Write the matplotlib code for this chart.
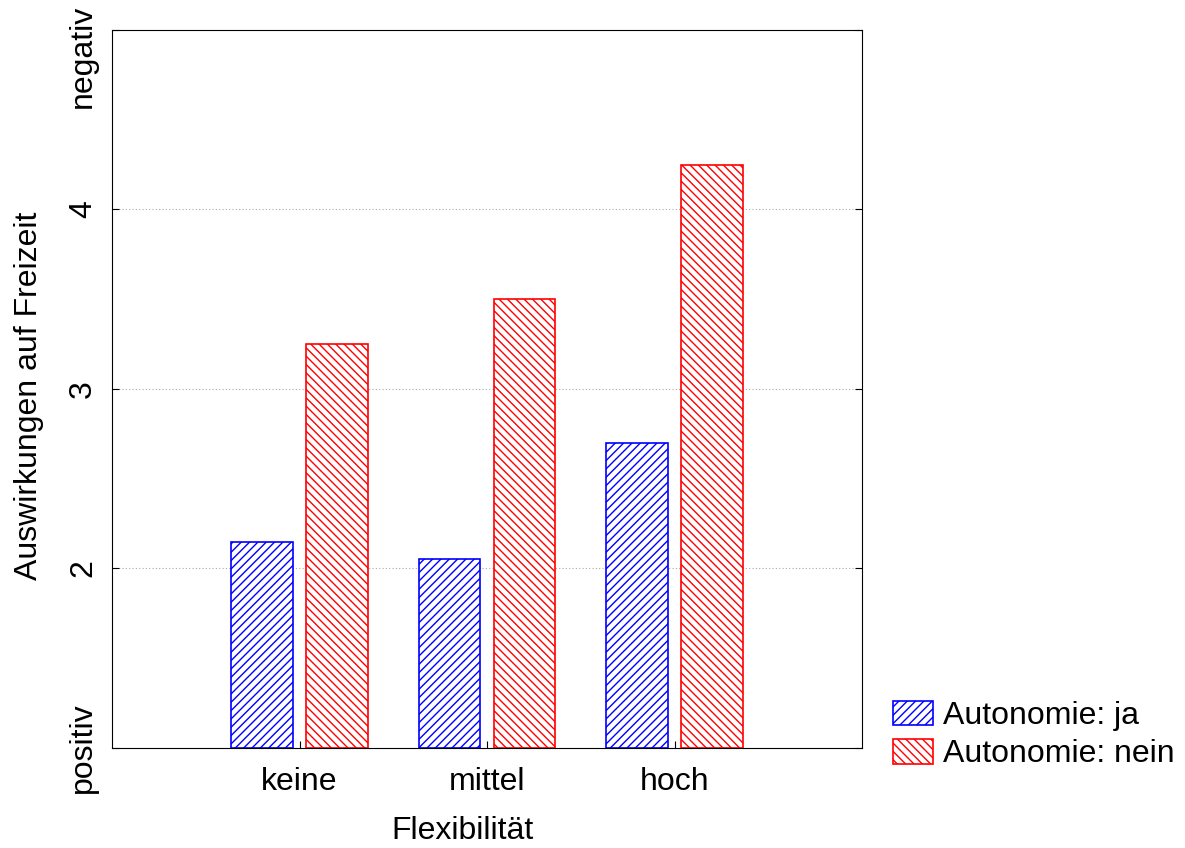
import matplotlib
matplotlib.use("Agg")
import matplotlib.pyplot as plt
import matplotlib.transforms as mtransforms
import numpy as np

plt.rcParams["font.family"] = ["Liberation Sans", "DejaVu Sans"]
plt.rcParams["hatch.linewidth"] = 1.0

categories = ["keine", "mittel", "hoch"]
autonomie_ja = [2.15, 2.05, 2.70]
autonomie_nein = [3.25, 3.50, 4.25]
y_ticks = [1, 2, 3, 4, 5]
y_labels = ["positiv", "2", "3", "4", "negativ"]

fig = plt.figure(figsize=(11.85, 8.48), dpi=100)
ax = fig.add_axes([0.0945, 0.118, 0.633, 0.8466])

x = np.arange(1, len(categories) + 1)
w = 0.33
ax.bar(x - 0.2, np.array(autonomie_ja) - 1, w, bottom=1, facecolor="white",
       edgecolor="blue", hatch="////", linewidth=1.2, label="Autonomie: ja")
ax.bar(x + 0.2, np.array(autonomie_nein) - 1, w, bottom=1, facecolor="white",
       edgecolor="red", hatch="\\\\\\\\", linewidth=1.2, label="Autonomie: nein")

ax.set_xlim(0, 4)
ax.set_ylim(1, 5)
ax.set_xticks(x)
ax.set_xticklabels(categories, fontsize=23)
ax.set_yticks(y_ticks)
ax.set_yticklabels(y_labels, fontsize=23, rotation=90, va="center")
ax.tick_params(direction="in", length=5, right=True, top=False)
ax.tick_params(axis="x", pad=14)
ax.tick_params(axis="y", pad=10)

# "negativ" is pushed down so that it stays inside the figure
neg = ax.get_yticklabels()[-1]
neg.set_va("top")
neg.set_transform(neg.get_transform()
                  + mtransforms.ScaledTranslation(0, 25 / 100, fig.dpi_scale_trans))

for yv in [2, 3, 4]:
    ax.axhline(yv, color="#aaaaaa", linestyle=(0, (1, 2)), linewidth=0.8, zorder=0)
ax.set_xlabel("Flexibilität", fontsize=23)
ax.xaxis.set_label_coords(0.467, -0.095)
ax.set_ylabel("Auswirkungen auf Freizeit", fontsize=23)
ax.yaxis.set_label_coords(-0.09, 0.49)

ax.legend(loc="lower left", bbox_to_anchor=(1.003, -0.07), frameon=False,
          fontsize=23, handlelength=1.25, handleheight=0.8, handletextpad=0.3,
          labelspacing=0.25)

fig.savefig("out.png", dpi=100)
